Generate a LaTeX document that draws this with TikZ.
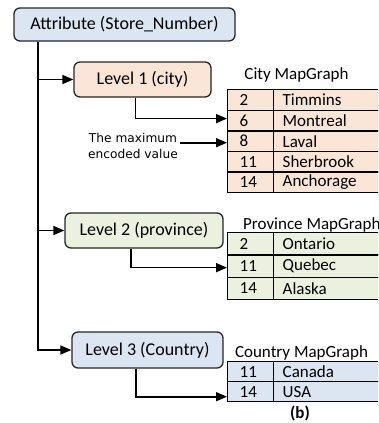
\documentclass[tikz,border=0pt]{standalone}
\usepackage{fontspec}
\setmainfont{Carlito}
\newfontfamily\dejavu{DejaVu Sans}
\usetikzlibrary{arrows.meta}
\definecolor{cblue}{HTML}{DCE6F2}
\definecolor{cpeach}{HTML}{FBE5D6}
\definecolor{cgreen}{HTML}{EBF1DE}
\tikzset{
  box/.style={draw=black!85, line width=1.3pt, rounded corners=6pt, inner sep=0pt, font=\fontsize{18}{21}\selectfont},
  conn/.style={line width=1.6pt, black},
  arr/.style={conn, -{Triangle[length=11pt,width=9pt]}},
  numcell/.style={draw=black, line width=1.4pt, anchor=north west, text width=22pt, inner xsep=12pt, inner ysep=0pt, align=left, font=\fontsize{17}{19}\selectfont},
  namecell/.style={draw=black, line width=1.4pt, anchor=north west, text width=89pt, inner xsep=9pt, inner ysep=0pt, align=left, font=\fontsize{17}{19}\selectfont},
  ttl/.style={inner sep=0pt, font=\fontsize{17}{19}\selectfont},
  annot/.style={inner sep=2pt, align=center, font=\dejavu\fontsize{12.2}{16}\selectfont}
}
\begin{document}
\begin{tikzpicture}[x=1pt,y=-1pt]
\clip (0,0) rectangle (378,423);
\fill[white] (0,0) rectangle (378,423);
% boxes
\node[box, fill=cblue, minimum width=221pt, minimum height=33pt] (attr) at (124.5,24.5) {Attribute (Store\_Number)};
\node[box, fill=cpeach, minimum width=137pt, minimum height=35pt] (l1) at (142.5,79.5) {Level 1 (city)};
\node[box, fill=cgreen, minimum width=158pt, minimum height=35pt] (l2) at (144,230.5) {Level 2 (province)};
\node[box, fill=cblue, minimum width=151pt, minimum height=36pt] (l3) at (147.5,350) {Level 3 (Country)};
% city table
\node[ttl] (ct) at (296.5,75) {City MapGraph};
\foreach \i/\n/\v in {1/2/Timmins,2/6/Montreal,3/8/Laval,4/11/Sherbrook,5/14/Anchorage}{
  \node[numcell, fill=cpeach, minimum height=20.6pt] (cn\i) at (227,{89+(\i-1)*20.6}) {\n};
  \node[namecell, fill=cpeach, minimum height=20.6pt] (cv\i) at (273,{89+(\i-1)*20.6}) {\v};
}
% province table
\node[ttl, anchor=west] (pt) at (243,225) {Province MapGraph};
\foreach \i/\n/\v in {1/2/Ontario,2/11/Quebec,3/14/Alaska}{
  \node[numcell, fill=cgreen, minimum height=22.3pt] (pn\i) at (227,{232+(\i-1)*22.3}) {\n};
  \node[namecell, fill=cgreen, minimum height=22.3pt] (pv\i) at (273,{232+(\i-1)*22.3}) {\v};
}
% country table
\node[ttl] (kt) at (301.5,353) {Country MapGraph};
\foreach \i/\n/\v in {1/11/Canada,2/14/USA}{
  \node[numcell, fill=cblue, minimum height=20pt] (kn\i) at (227,{361+(\i-1)*20}) {\n};
  \node[namecell, fill=cblue, minimum height=20pt] (kv\i) at (273,{361+(\i-1)*20}) {\v};
}
% annotation
\node[annot] (mx) at (133,146) {The maximum\\encoded value};
\node[inner sep=0pt, font=\bfseries\fontsize{17}{19}\selectfont] (b) at (300,413) {(b)};
% trunk
\coordinate (tk) at (38,0);
\draw[arr] (attr.south -| tk) |- (l3.west);
\draw[arr] (l1.west -| tk) -- (l1.west);
\draw[arr] (l2.west -| tk) -- (l2.west);
% level to table
\draw[arr] ([xshift=-7pt]l1.south) |- ([yshift=2pt]cn2.west);
\draw[arr] ([xshift=-13pt]l2.south) |- ([yshift=-1.5pt]pn2.west);
\draw[arr] ([xshift=-11.5pt]l3.south) |- ([yshift=-5pt]kn2.west);
\coordinate (m8) at ([yshift=-1.5pt]cn3.west);
\draw[arr] (mx.east |- m8) -- (m8);
\end{tikzpicture}
\end{document}
